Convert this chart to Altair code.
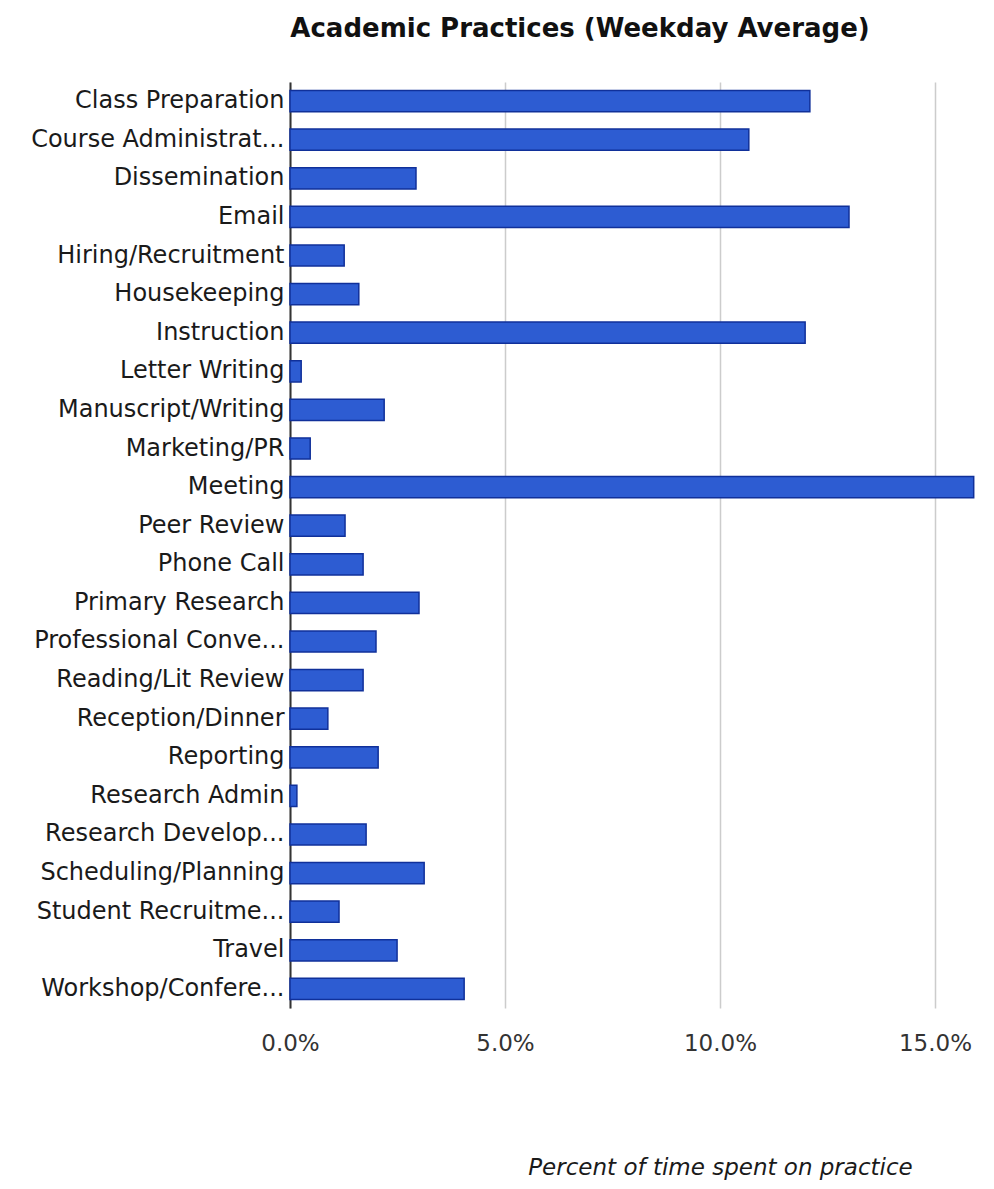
import altair as alt
import pandas as pd

categories = [
    "Class Preparation", "Course Administrat...", "Dissemination", "Email",
    "Hiring/Recruitment", "Housekeeping", "Instruction", "Letter Writing",
    "Manuscript/Writing", "Marketing/PR", "Meeting", "Peer Review",
    "Phone Call", "Primary Research", "Professional Conve...", "Reading/Lit Review",
    "Reception/Dinner", "Reporting", "Research Admin", "Research Develop...",
    "Scheduling/Planning", "Student Recruitme...", "Travel", "Workshop/Confere...",
]
values = [
    12.09, 10.67, 2.93, 13.0,
    1.26, 1.6, 11.98, 0.26,
    2.19, 0.47, 15.9, 1.28,
    1.7, 3.0, 2.0, 1.7,
    0.88, 2.05, 0.16, 1.77,
    3.12, 1.14, 2.49, 4.05,
]
x_ticks = [0, 5, 10, 15]

df = pd.DataFrame({"practice": categories, "pct": [v / 100 for v in values]})

FONT = "DejaVu Sans"

chart = (
    alt.Chart(df)
    .mark_bar(color="#2d5cd2", stroke="#10309a", strokeWidth=1.5)
    .encode(
        y=alt.Y(
            "practice:N",
            sort=categories,
            title=None,
            scale=alt.Scale(paddingInner=0.45, paddingOuter=0.22),
            axis=alt.Axis(
                ticks=False,
                domain=True,
                domainColor="#333333",
                domainWidth=2,
                labelFont=FONT,
                labelFontSize=24,
                labelColor="#1a1a1a",
                labelPadding=6,
                grid=False,
                labelLimit=400,
            ),
        ),
        x=alt.X(
            "pct:Q",
            scale=alt.Scale(domain=[0, 0.16], nice=False),
            title="Percent of time spent on practice",
            axis=alt.Axis(
                values=[t / 100 for t in x_ticks],
                format=".1%",
                ticks=False,
                domain=False,
                grid=True,
                gridColor="#cccccc",
                gridWidth=1.5,
                labelFlush=False,
                labelFont=FONT,
                labelFontSize=23,
                labelColor="#333333",
                labelPadding=24,
                titleFont=FONT,
                titleFontSize=23,
                titleFontStyle="italic",
                titleFontWeight="normal",
                titleColor="#1a1a1a",
                titleX=430,
                titleY=166,
                titleAlign="center",
                titleBaseline="alphabetic",
            ),
        ),
    )
    .properties(
        width=688,
        height=926,
        background="white",
        title=alt.TitleParams(
            "Academic Practices (Weekday Average)",
            font=FONT,
            fontSize=26,
            fontWeight="bold",
            color="#111111",
            anchor="middle",
            dx=-54,
            offset=40,
        ),
        autosize=alt.AutoSizeParams(type="none"),
        padding={"left": 282, "top": 74, "right": 0, "bottom": 173},
    )
    .configure_view(stroke=None)
)

chart.save("out.html", embed_options={"renderer": "svg", "actions": False})
